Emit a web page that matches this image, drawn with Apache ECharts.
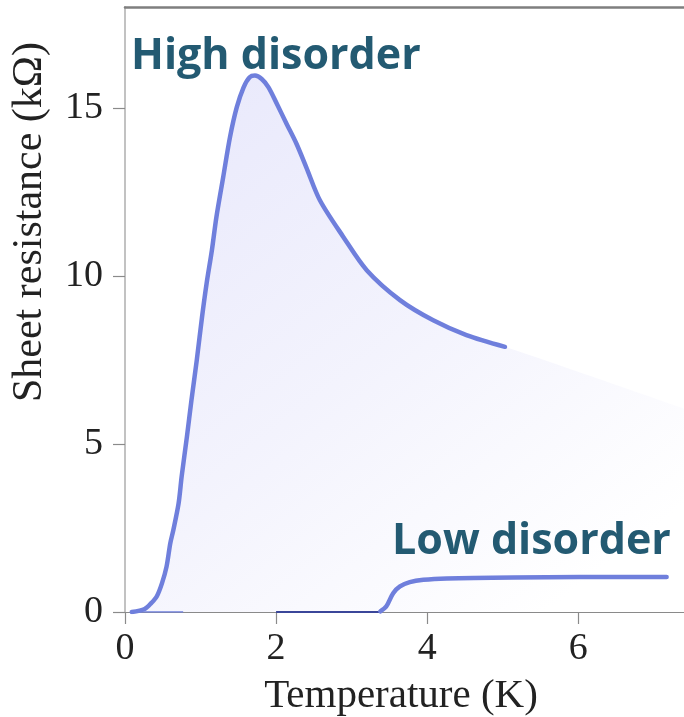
<!DOCTYPE html>
<html>
<head>
<meta charset="utf-8">
<title>Sheet resistance vs temperature</title>
<script src="https://cdn.jsdelivr.net/npm/echarts@6/dist/echarts.min.js"></script>
<style>
  html, body { margin: 0; padding: 0; background: #fff; }
  #chart { width: 684px; height: 717px; }
</style>
</head>
<body>
<div id="chart"></div>
<script>
// High-disorder film: temperature (K) and sheet resistance (kΩ)
const highT = [0.09, 0.26, 0.35, 0.42, 0.49, 0.55, 0.60, 0.64, 0.71, 0.75, 0.82, 0.88, 0.95, 1.02, 1.08, 1.15, 1.21, 1.30, 1.39, 1.48, 1.57, 1.65, 1.72, 1.81, 1.90, 2.01, 2.14, 2.27, 2.40, 2.58, 2.89, 3.20, 3.64, 4.08, 4.52, 5.03];
const highR = [0.00, 0.09, 0.27, 0.46, 0.86, 1.35, 2.05, 2.44, 3.24, 4.03, 5.22, 6.31, 7.49, 8.78, 9.77, 10.76, 11.75, 12.94, 14.13, 15.02, 15.61, 15.91, 15.96, 15.86, 15.61, 15.12, 14.52, 13.93, 13.23, 12.25, 11.16, 10.17, 9.28, 8.68, 8.24, 7.89];
// Shaded region continues past the measured curve toward the right edge
const shadeT = [6.20, 7.40];
const shadeR = [6.99, 6.05];
// Thin trace along zero below the transition
const highBaseT = [0.17, 0.77];
const highBaseR = [0, 0];

// Low-disorder film: flat zero section, then the step up
const lowFlatT = [2.00, 3.38];
const lowFlatR = [0, 0];
const lowT = [3.38, 3.46, 3.55, 3.64, 3.77, 3.95, 4.26, 5.14, 6.02, 7.17];
const lowR = [0.02, 0.17, 0.56, 0.76, 0.89, 0.96, 1.00, 1.03, 1.04, 1.04];

// Axis ticks
const xTicks = [0, 2, 4, 6];
const yTicks = [0, 5, 10, 15];

const zip = (a, b) => a.map((v, i) => [v, b[i]]);

const lineColor = '#6f7fdc';
const labelColor = '#235a72';
const serif = '"Liberation Serif", "DejaVu Serif", serif';
const sansBold = 'bold 43px "Open Sans", "Noto Sans", sans-serif';
const curveSmooth = 0.3;

const chart = echarts.init(document.getElementById('chart'), null, { renderer: 'canvas' });

chart.setOption({
  backgroundColor: '#ffffff',
  animation: false,
  grid: { left: 125, top: 7, right: 0, bottom: 105, containLabel: false },
  xAxis: [
    {
      type: 'value', min: 0, max: 7.4, interval: 2,
      axisLine: { show: true, onZero: false, lineStyle: { color: '#8a8a8a', width: 1.2 } },
      axisTick: { show: true, length: 12, customValues: xTicks, lineStyle: { color: '#8a8a8a', width: 1.2 } },
      axisLabel: { customValues: xTicks, margin: 18, color: '#222', fontFamily: serif, fontSize: 38 },
      splitLine: { show: false }
    },
    {
      // frame line along the top of the plot
      type: 'value', position: 'top', min: 0, max: 7.4,
      axisLine: { show: true, onZero: false, lineStyle: { color: '#7f7f7f', width: 2.5 } },
      axisTick: { show: false }, axisLabel: { show: false }, splitLine: { show: false }
    }
  ],
  yAxis: {
    type: 'value', min: 0, max: 18, interval: 5,
    axisLine: { show: true, onZero: false, lineStyle: { color: '#c2c2c2', width: 2 } },
    axisTick: { show: true, length: 12, customValues: yTicks, lineStyle: { color: '#8a8a8a', width: 1.2 } },
    axisLabel: { customValues: yTicks, margin: 22, color: '#222', fontFamily: serif, fontSize: 38 },
    splitLine: { show: false }
  },
  series: [
    {
      name: 'High disorder area',
      type: 'line', smooth: curveSmooth, symbol: 'none', silent: true, z: 1,
      data: zip(highT.concat(shadeT), highR.concat(shadeR)),
      lineStyle: { width: 0, opacity: 0 },
      areaStyle: {
        color: new echarts.graphic.LinearGradient(0, 0, 0.75, 1, [
          { offset: 0, color: 'rgba(222,222,250,1)' },
          { offset: 0.55, color: 'rgba(238,238,252,1)' },
          { offset: 1, color: 'rgba(255,255,255,1)' }
        ])
      }
    },
    {
      name: 'High disorder',
      type: 'line', smooth: curveSmooth, symbol: 'none', z: 3,
      data: zip(highT, highR),
      lineStyle: { color: lineColor, width: 4.5, cap: 'round', join: 'round' }
    },
    {
      name: 'High disorder base',
      type: 'line', symbol: 'none', z: 3,
      data: zip(highBaseT, highBaseR),
      lineStyle: { color: lineColor, width: 1.5 }
    },
    {
      name: 'Low disorder base',
      type: 'line', symbol: 'none', z: 3,
      data: zip(lowFlatT, lowFlatR),
      lineStyle: { color: '#3a4699', width: 2 }
    },
    {
      name: 'Low disorder',
      type: 'line', smooth: curveSmooth, symbol: 'none', z: 3,
      data: zip(lowT, lowR),
      lineStyle: { color: lineColor, width: 4.5, cap: 'round', join: 'round' }
    }
  ],
  graphic: [
    {
      type: 'text', left: 131, top: 35, z: 10,
      style: { text: 'High disorder', fill: labelColor, font: sansBold }
    },
    {
      type: 'text', left: 392, top: 520, z: 10,
      style: { text: 'Low disorder', fill: labelColor, font: sansBold }
    },
    {
      type: 'text', x: 401, y: 696, z: 10,
      style: { text: 'Temperature (K)', fill: '#222', font: '41px ' + serif, align: 'center', verticalAlign: 'middle' }
    },
    {
      type: 'text', x: 30, y: 222, rotation: Math.PI / 2, z: 10,
      style: { text: 'Sheet resistance (kΩ)', fill: '#222', font: '42px ' + serif, align: 'center', verticalAlign: 'middle' }
    }
  ]
});
</script>
</body>
</html>
